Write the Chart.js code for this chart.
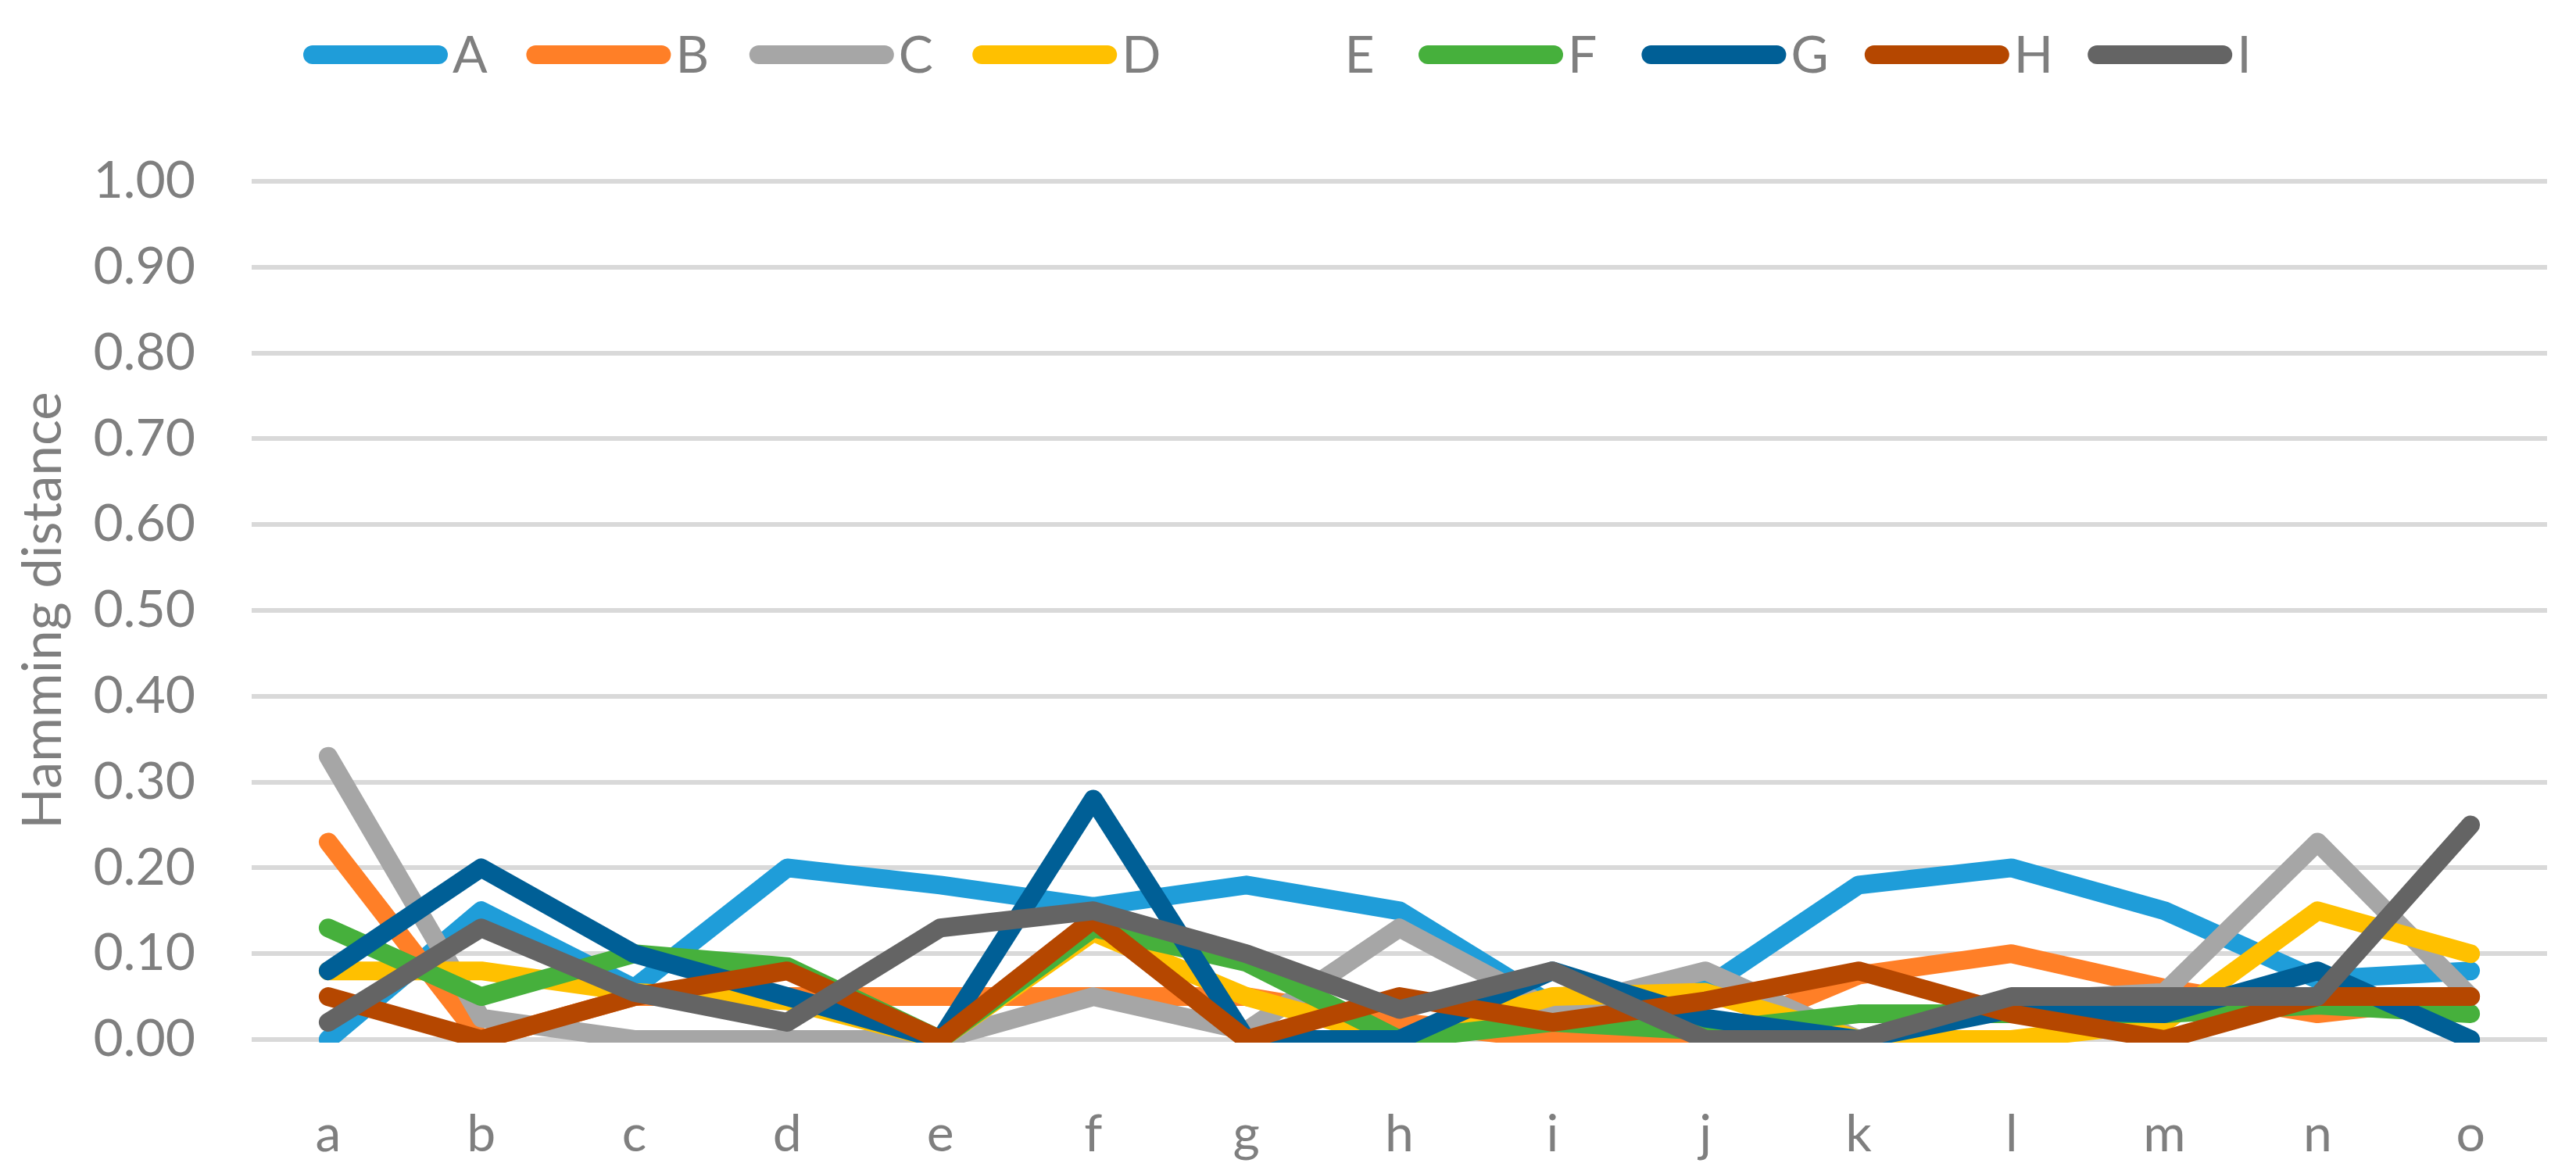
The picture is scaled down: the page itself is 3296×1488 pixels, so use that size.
<!DOCTYPE html>
<html>
<head>
<meta charset="utf-8">
<script src="https://cdn.jsdelivr.net/npm/chart.js@4.4.1/dist/chart.umd.min.js"></script>
<style>
  html, body { margin: 0; padding: 0; background: #ffffff; }
  #wrap { width: 3296px; height: 1488px; }
</style>
</head>
<body>
<div id="wrap"><canvas id="c" width="3296" height="1488"></canvas></div>
<script>
// ---------- data ----------
const categories = ['a','b','c','d','e','f','g','h','i','j','k','l','m','n','o'];
const seriesNames = ['A','B','C','D','E','F','G','H','I'];
const yTickLabels = ['0.00','0.10','0.20','0.30','0.40','0.50','0.60','0.70','0.80','0.90','1.00'];
const yAxisTitle = 'Hamming distance';

const seriesA = [0.00, 0.15, 0.06, 0.20, 0.18, 0.155, 0.18, 0.15, 0.04, 0.06, 0.18, 0.20, 0.15, 0.07, 0.08];
const seriesB = [0.23, 0.00, 0.05, 0.05, 0.05, 0.05, 0.05, 0.02, 0.00, 0.00, 0.075, 0.10, 0.06, 0.03, 0.05];
const seriesC = [0.33, 0.025, 0.00, 0.00, 0.00, 0.05, 0.01, 0.13, 0.035, 0.08, 0.00, 0.045, 0.055, 0.23, 0.05];
const seriesD = [0.08, 0.08, 0.055, 0.045, 0.00, 0.125, 0.05, 0.00, 0.05, 0.055, 0.00, 0.00, 0.02, 0.15, 0.10];
const seriesE = [null, null, null, null, null, null, null, null, null, null, null, null, null, null, null];
const seriesF = [0.13, 0.05, 0.10, 0.085, 0.00, 0.13, 0.09, 0.00, 0.02, 0.01, 0.03, 0.03, 0.03, 0.04, 0.03];
const seriesG = [0.08, 0.20, 0.10, 0.05, 0.00, 0.28, 0.00, 0.00, 0.08, 0.025, 0.00, 0.035, 0.03, 0.08, 0.00];
const seriesH = [0.05, 0.00, 0.05, 0.08, 0.00, 0.14, 0.00, 0.05, 0.02, 0.045, 0.08, 0.03, 0.00, 0.05, 0.05];
const seriesI = [0.02, 0.13, 0.055, 0.02, 0.13, 0.15, 0.10, 0.035, 0.08, 0.00, 0.00, 0.05, 0.05, 0.05, 0.25];

const seriesValues = [seriesA, seriesB, seriesC, seriesD, seriesE, seriesF, seriesG, seriesH, seriesI];

// ---------- styles ----------
const palette = ['#1f9dd9', '#ff7f27', '#a6a6a6', '#ffc000', 'rgba(0,0,0,0)', '#46b03c', '#005f96', '#b54700', '#646464'];
const textColor = '#7f7f7f';
const fontFamily = 'Lato, "Open Sans", sans-serif';

const datasets = seriesNames.map((name, i) => ({
  label: name,
  data: seriesValues[i],
  borderColor: palette[i],
  backgroundColor: palette[i],
  borderWidth: 24,
  borderCapStyle: 'round',
  borderJoinStyle: 'round',
  pointRadius: 0,
  pointHoverRadius: 0,
  tension: 0,
  fill: false,
  spanGaps: false,
  order: seriesNames.length - i,
  clip: { left: 60, top: 0, right: 60, bottom: 4 }
}));

// custom Excel-like legend across the top
const topLegend = {
  id: 'topLegend',
  afterDraw(chart) {
    const ctx = chart.ctx;
    ctx.save();
    const startX = 388, pitch = 285.4, lineY = 70, lineLen = 185, lw = 24;
    chart.data.datasets.forEach((ds, i) => {
      const x = startX + i * pitch;
      if (ds.borderColor !== 'rgba(0,0,0,0)') {
        ctx.strokeStyle = ds.borderColor;
        ctx.lineWidth = lw;
        ctx.lineCap = 'round';
        ctx.beginPath();
        ctx.moveTo(x + lw / 2, lineY);
        ctx.lineTo(x + lineLen - lw / 2, lineY);
        ctx.stroke();
      }
      ctx.fillStyle = textColor;
      ctx.font = '66px ' + fontFamily;
      ctx.textAlign = 'left';
      ctx.textBaseline = 'alphabetic';
      ctx.fillText(ds.label, x + lineLen + 6, 93);
    });
    ctx.restore();
  }
};

function build() {
  new Chart(document.getElementById('c'), {
    type: 'line',
    data: { labels: categories, datasets },
    plugins: [topLegend],
    options: {
      responsive: false,
      animation: false,
      devicePixelRatio: 1,
      layout: { padding: { top: 232, right: 37, bottom: 0, left: 0 } },
      plugins: {
        legend: { display: false },
        tooltip: { enabled: false },
        title: { display: false }
      },
      scales: {
        x: {
          type: 'category',
          offset: true,
          grid: { display: false, drawTicks: false, tickLength: 0 },
          border: { display: false },
          ticks: {
            padding: 82,
            color: textColor,
            font: { family: fontFamily, size: 66 },
            maxRotation: 0,
            autoSkip: false
          },
          afterFit: s => { s.height = 158; }
        },
        y: {
          min: 0,
          max: 1,
          grid: { color: '#d9d9d9', lineWidth: 6, drawTicks: false, tickLength: 0 },
          border: { display: false },
          ticks: {
            stepSize: 0.1,
            padding: 72,
            color: textColor,
            font: { family: fontFamily, size: 66 },
            callback: (v, idx) => yTickLabels[idx]
          },
          title: {
            display: true,
            text: yAxisTitle,
            color: textColor,
            font: { family: fontFamily, size: 69 },
            padding: { top: 14, bottom: 0 }
          },
          afterFit: s => { s.width = 322; }
        }
      }
    }
  });
}

if (document.fonts && document.fonts.load) {
  Promise.all([document.fonts.load('66px Lato'), document.fonts.load('69px Lato')]).then(build, build);
} else {
  build();
}
</script>
</body>
</html>
